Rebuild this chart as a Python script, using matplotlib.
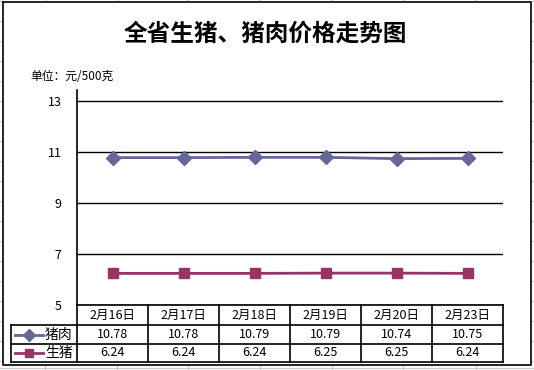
import matplotlib.pyplot as plt
from matplotlib.lines import Line2D

plt.rcParams['font.family'] = ['Noto Sans CJK SC', 'DejaVu Sans']

dates = ['2月16日', '2月17日', '2月18日', '2月19日', '2月20日', '2月23日']
pork = [10.78, 10.78, 10.79, 10.79, 10.74, 10.75]
hog = [6.24, 6.24, 6.24, 6.25, 6.25, 6.24]
series_names = ['猪肉', '生猪']
yticks = [5, 7, 9, 11, 13]

title = '全省生猪、猪肉价格走势图'
unit = '单位：元/500克'

W, H = 534, 370
c_pork = '#666699'
c_hog = '#993366'

fig = plt.figure(figsize=(W / 100, H / 100), dpi=100)

# pixel geometry of the plot area
x0, x1 = 77, 503
y_top, y13, y5 = 90, 101, 305
ncol = len(dates)
colw = (x1 - x0) / ncol

# overlay in pixel coordinates for frame, table and text
ov = fig.add_axes([0, 0, 1, 1])
ov.set_xlim(0, W)
ov.set_ylim(H, 0)
ov.axis('off')

# spreadsheet grid peeking out round the chart
g = '#c8c8c8'
for yy in range(1, H, 20):
    ov.plot([0, 3], [yy, yy], color=g, lw=0.8)
    ov.plot([531, W], [yy, yy], color=g, lw=0.8)
for xx in [45, 117, 188, 260, 332, 403, 476]:
    ov.plot([xx, xx], [365, H], color=g, lw=0.8)
    ov.plot([xx, xx], [0, 2], color=g, lw=0.8)
ov.plot([0, W], [368, 368], color=g, lw=0.8)

# chart frame
ov.plot([3, 531, 531, 3, 3], [2, 2, 365, 365, 2], color='black', lw=1.2)

ov.text(265, 34, title, ha='center', va='center', fontsize=17, fontweight='bold')
ov.text(30, 77, unit, ha='left', va='center', fontsize=8.5)

# main axes
ax = fig.add_axes([x0 / W, 1 - y5 / H, (x1 - x0) / W, (y5 - y_top) / H])
scale = (y5 - y13) / (13 - 5)
ax.set_ylim(5, 13 + (y13 - y_top) / scale)
ax.set_xlim(-0.5, ncol - 0.5)
ax.set_yticks(yticks)
ax.set_yticklabels([str(t) for t in yticks], fontsize=9)
ax.tick_params(axis='y', length=0, pad=11)
ax.set_xticks([])
for s in ['top', 'right', 'bottom']:
    ax.spines[s].set_visible(False)
ax.spines['left'].set_linewidth(1.2)
ax.grid(axis='y', color='black', lw=1.0)
ax.set_axisbelow(True)
ax.patch.set_alpha(0)

xs = range(ncol)
ax.plot(xs, pork, color=c_pork, lw=2, marker='D', ms=7, clip_on=False)
ax.plot(xs, hog, color=c_hog, lw=2, marker='s', ms=7, clip_on=False)

# data table under the axis
r0, r1, r2, r3 = 305, 325, 344, 362
lx = 11
lw = 1.2
ov.plot([x0, x1], [r0, r0], color='black', lw=lw)
for yy in [r1, r2, r3]:
    ov.plot([lx, x1], [yy, yy], color='black', lw=lw)
ov.plot([lx, lx], [r1, r3], color='black', lw=lw)
for i in range(ncol + 1):
    xx = x0 + i * colw
    ov.plot([xx, xx], [r0, r3], color='black', lw=lw)

for i, d in enumerate(dates):
    cx = x0 + (i + 0.5) * colw
    ov.text(cx, (r0 + r1) / 2, d, ha='center', va='center', fontsize=9)
    ov.text(cx, (r1 + r2) / 2, f'{pork[i]:.2f}', ha='center', va='center', fontsize=9)
    ov.text(cx, (r2 + r3) / 2, f'{hog[i]:.2f}', ha='center', va='center', fontsize=9)

# legend keys in the first column
for name, col, mk, (ya, yb) in zip(series_names, [c_pork, c_hog], ['D', 's'],
                                   [(r1, r2), (r2, r3)]):
    yc = (ya + yb) / 2
    ov.add_line(Line2D([15, 43], [yc, yc], color=col, lw=2))
    ov.add_line(Line2D([29], [yc], color=col, marker=mk, ms=6, lw=0))
    ov.text(45, yc, name, ha='left', va='center', fontsize=10)

fig.savefig('out.png', dpi=100)
